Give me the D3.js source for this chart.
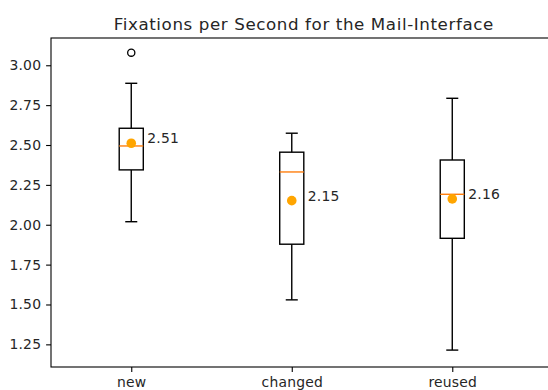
<!DOCTYPE html>
<html>
<head>
<meta charset="utf-8">
<script src="https://cdn.jsdelivr.net/npm/d3@7"></script>
<style>
  body { margin: 0; background: #fff; }
  svg { display: block; font-family: "DejaVu Sans", sans-serif; }
</style>
</head>
<body>
<div id="chart"></div>
<script>
// box statistics
const categories = ["new", "changed", "reused"];
const whiskerLow = [2.019, 1.529, 1.214];
const q1 = [2.344, 1.878, 1.915];
const medians = [2.494, 2.331, 2.191];
const q3 = [2.605, 2.455, 2.406];
const whiskerHigh = [2.887, 2.574, 2.793];
const means = [2.511, 2.151, 2.162];
const outliers = [[3.079], [], []];
const yTicks = [1.25, 1.50, 1.75, 2.00, 2.25, 2.50, 2.75, 3.00];

const width = 548, height = 390;
const margin = { top: 38, left: 51, bottom: 367 };
const axRight = 556.6; // the right spine falls outside the cropped picture

const svg = d3.select("#chart")
    .append("svg")
    .attr("width", width)
    .attr("height", height);

// positions 1..3, like matplotlib boxplot
const x = d3.scaleLinear()
    .domain([0.5, 3.65])
    .range([margin.left, axRight]);

const y = d3.scaleLinear()
    .domain([1.108, 3.171])
    .range([margin.bottom, margin.top]);

const boxW = x(1.15) - x(1);
const capW = boxW / 2;

const data = categories.map((c, i) => ({
    name: c, pos: i + 1,
    lo: whiskerLow[i], q1: q1[i], med: medians[i], q3: q3[i], hi: whiskerHigh[i],
    mean: means[i], fliers: outliers[i]
}));

// axes frame
svg.append("rect")
    .attr("x", margin.left)
    .attr("y", margin.top)
    .attr("width", axRight - margin.left)
    .attr("height", margin.bottom - margin.top)
    .attr("fill", "none")
    .attr("stroke", "#000")
    .attr("stroke-width", 1.1);

// axes
const yAxis = svg.append("g")
    .attr("transform", `translate(${margin.left},0)`)
    .call(d3.axisLeft(y).tickValues(yTicks).tickFormat(d3.format(".2f"))
        .tickSize(4.9).tickPadding(4.9));

const xAxis = svg.append("g")
    .attr("transform", `translate(0,${margin.bottom})`)
    .call(d3.axisBottom(x).tickValues([1, 2, 3]).tickFormat((d) => categories[d - 1])
        .tickSize(4.9).tickPadding(4.9));

[xAxis, yAxis].forEach((g) => {
    g.select(".domain").remove();
    g.selectAll(".tick line").attr("stroke", "#000").attr("stroke-width", 1.1);
    g.selectAll(".tick text")
        .attr("fill", "#262626")
        .style("font-size", "13.9px")
        .style("letter-spacing", "0.2px")
        .style("font-family", "DejaVu Sans, sans-serif");
});

// boxes
const boxes = svg.selectAll(".box")
    .data(data)
    .join("g")
    .attr("class", "box");

// whiskers
boxes.append("line")
    .attr("x1", (d) => x(d.pos)).attr("x2", (d) => x(d.pos))
    .attr("y1", (d) => y(d.q3)).attr("y2", (d) => y(d.hi));
boxes.append("line")
    .attr("x1", (d) => x(d.pos)).attr("x2", (d) => x(d.pos))
    .attr("y1", (d) => y(d.q1)).attr("y2", (d) => y(d.lo));

// caps
boxes.append("line")
    .attr("x1", (d) => x(d.pos) - capW / 2).attr("x2", (d) => x(d.pos) + capW / 2)
    .attr("y1", (d) => y(d.hi)).attr("y2", (d) => y(d.hi));
boxes.append("line")
    .attr("x1", (d) => x(d.pos) - capW / 2).attr("x2", (d) => x(d.pos) + capW / 2)
    .attr("y1", (d) => y(d.lo)).attr("y2", (d) => y(d.lo));

boxes.selectAll("line")
    .attr("stroke", "#000")
    .attr("stroke-width", 1.4);

// the box itself
boxes.append("rect")
    .attr("x", (d) => x(d.pos) - boxW / 2)
    .attr("y", (d) => y(d.q3))
    .attr("width", boxW)
    .attr("height", (d) => y(d.q1) - y(d.q3))
    .attr("fill", "none")
    .attr("stroke", "#000")
    .attr("stroke-width", 1.4);

// median
boxes.append("line")
    .attr("x1", (d) => x(d.pos) - boxW / 2).attr("x2", (d) => x(d.pos) + boxW / 2)
    .attr("y1", (d) => y(d.med)).attr("y2", (d) => y(d.med))
    .attr("stroke", "#ff7f0e")
    .attr("stroke-width", 1.4);

// outliers
boxes.selectAll(".flier")
    .data((d) => d.fliers.map((v) => ({ pos: d.pos, v })))
    .join("circle")
    .attr("class", "flier")
    .attr("cx", (d) => x(d.pos))
    .attr("cy", (d) => y(d.v))
    .attr("r", 3.6)
    .attr("fill", "none")
    .attr("stroke", "#000")
    .attr("stroke-width", 1.3);

// mean dots and their labels
boxes.append("circle")
    .attr("cx", (d) => x(d.pos))
    .attr("cy", (d) => y(d.mean))
    .attr("r", 4.8)
    .attr("fill", "orange");

boxes.append("text")
    .attr("x", (d) => x(d.pos + 0.1))
    .attr("y", (d) => y(d.mean))
    .attr("fill", "#262626")
    .style("font-size", "13.9px")
    .style("letter-spacing", "0.2px")
    .text((d) => d.mean.toFixed(2));

// title
svg.append("text")
    .attr("x", (margin.left + axRight) / 2)
    .attr("y", 29.5)
    .attr("text-anchor", "middle")
    .attr("fill", "#262626")
    .style("font-size", "16.7px")
    .style("letter-spacing", "0.6px")
    .text("Fixations per Second for the Mail-Interface");
</script>
</body>
</html>
